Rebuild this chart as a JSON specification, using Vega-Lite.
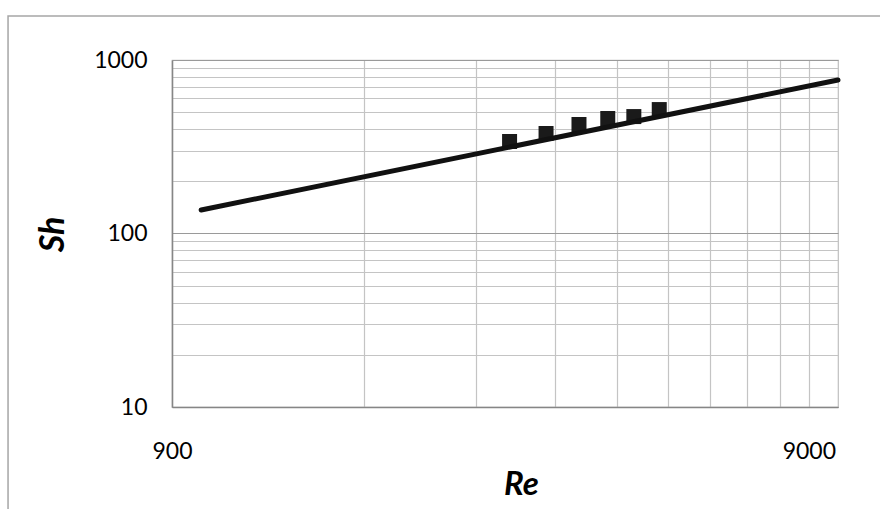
{
  "$schema": "https://vega.github.io/schema/vega-lite/v6.json",
  "width": 666,
  "height": 347,
  "autosize": "none",
  "padding": {"left": 172, "top": 60, "right": 42, "bottom": 102},
  "background": "white",
  "config": {
    "font": "Lato",
    "view": {"stroke": "#bfbfbf", "strokeWidth": 1.2}
  },
  "datasets": {
    "measured": [
      {"Re": 3050, "Sh": 339},
      {"Re": 3480, "Sh": 377},
      {"Re": 3920, "Sh": 425},
      {"Re": 4350, "Sh": 460},
      {"Re": 4780, "Sh": 472},
      {"Re": 5240, "Sh": 518}
    ],
    "fit": [
      {"Re": 1000, "Sh": 136.6},
      {"Re": 10000, "Sh": 767}
    ]
  },
  "layer": [
    {
      "data": {"values": [{}]},
      "mark": {"type": "rect", "fill": null, "stroke": "#a6a6a6", "strokeWidth": 1.5, "clip": false},
      "encoding": {
        "x": {"datum": 497.5, "type": "quantitative", "scale": {"type": "log", "domain": [900, 10000]}},
        "x2": {"datum": 300000},
        "y": {"datum": 1793, "type": "quantitative", "scale": {"type": "log", "domain": [10, 1000]}},
        "y2": {"datum": 0.5}
      }
    },
    {
      "data": {"name": "measured"},
      "mark": {"type": "point", "shape": "square", "filled": true, "size": 225, "color": "#1a1a1a", "opacity": 1},
      "encoding": {
        "x": {
          "field": "Re",
          "type": "quantitative",
          "scale": {"type": "log", "domain": [900, 10000]},
          "axis": {
            "values": [900, 1800, 2700, 3600, 4500, 5400, 6300, 7200, 8100, 9000],
            "labelExpr": "datum.value == 900 || datum.value == 9000 ? format(datum.value, 'd') : ''",
            "labelOverlap": false,
            "labelFlush": false,
            "grid": true,
            "gridColor": "#c4c4c4",
            "gridWidth": 1.2,
            "domainColor": "#868686",
            "domainWidth": 1.5,
            "ticks": false,
            "labelPadding": 33,
            "labelFontSize": 23,
            "labelColor": "#000000",
            "title": "Re",
            "titleFontSize": 33,
            "titleFontWeight": "bold",
            "titleFontStyle": "italic",
            "titleColor": "#000000",
            "titleAlign": "center",
            "titleBaseline": "alphabetic",
            "titleX": 349,
            "titleY": 87
          }
        },
        "y": {
          "field": "Sh",
          "type": "quantitative",
          "scale": {"type": "log", "domain": [10, 1000]},
          "axis": {
            "values": [10, 20, 30, 40, 50, 60, 70, 80, 90, 100, 200, 300, 400, 500, 600, 700, 800, 900, 1000],
            "labelExpr": "datum.value == 10 || datum.value == 100 || datum.value == 1000 ? format(datum.value, 'd') : ''",
            "labelOverlap": false,
            "labelFlush": false,
            "grid": true,
            "gridColor": {"condition": {"test": "datum.value == 10 || datum.value == 100 || datum.value == 1000", "value": "#9a9a9a"}, "value": "#c4c4c4"},
            "gridWidth": 1.2,
            "domainColor": "#868686",
            "domainWidth": 1.5,
            "ticks": false,
            "labelPadding": 25,
            "labelFontSize": 23,
            "labelColor": "#000000",
            "title": "Sh",
            "titleFontSize": 34,
            "titleFontWeight": "bold",
            "titleFontStyle": "italic",
            "titleColor": "#000000",
            "titleAngle": 270,
            "titleAlign": "center",
            "titleBaseline": "alphabetic",
            "titleX": -109,
            "titleY": 174
          }
        }
      }
    },
    {
      "data": {"name": "fit"},
      "mark": {"type": "line", "color": "#111111", "strokeWidth": 5, "strokeCap": "round"},
      "encoding": {
        "x": {"field": "Re", "type": "quantitative", "scale": {"type": "log", "domain": [900, 10000]}},
        "y": {"field": "Sh", "type": "quantitative", "scale": {"type": "log", "domain": [10, 1000]}}
      }
    }
  ]
}
